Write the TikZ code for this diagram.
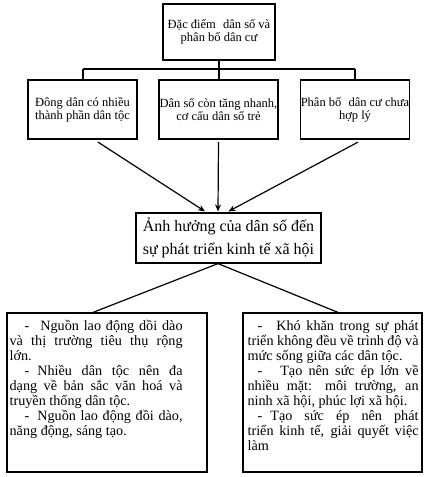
\documentclass[tikz,border=0pt]{standalone}
\usepackage{fontspec}
\setmainfont{Liberation Serif}
\usetikzlibrary{arrows.meta,calc}
\begin{document}
\begin{tikzpicture}[x=1pt,y=-1pt,
  box/.style={draw,line width=1.2pt,inner sep=0pt,align=center},
  small/.style={font=\fontsize{12.5}{13}\selectfont},
  conn/.style={line width=1.2pt},
  arr/.style={line width=1.2pt,-{Stealth[length=7pt,width=6pt]}},
  para/.style={anchor=north west,inner sep=0pt,align=justify,font=\fontsize{14.2}{15}\selectfont}
]
\useasboundingbox (0,0) rectangle (431,477);
% top
\node[box,small,minimum width=112pt,minimum height=56pt] (top) at (219,32) {Đặc điểm\hspace{4pt} dân số và\\phân bố dân cư};
% middle row
\node[box,small,minimum width=109pt,minimum height=59pt] (ml) at (82.5,109.5) {Đông dân có nhiều\\thành phần dân tộc};
\node[box,small,minimum width=119pt,minimum height=59pt] (mm) at (218.5,109.5) {Dân số còn tăng nhanh,\\cơ cấu dân số trẻ};
\node[box,small,minimum width=106pt,minimum height=59pt] (mr) at (355,109.5) {Phân bố\hspace{4pt} dân cư chưa\\hợp lý};
% center
\node[box,font=\fontsize{16}{23}\selectfont,minimum width=185pt,minimum height=50pt] (c) at (228.5,238) {Ảnh hưởng của dân số đến\\sự phát triển kinh tế xã hội};
% bottom boxes
\node[box,minimum width=200pt,minimum height=159pt] (bl) at (107,392.5) {};
\node[box,minimum width=179pt,minimum height=159pt] (br) at (332.5,392.5) {};
\node[para,text width=173pt] (tl) at ([shift={(3pt,-8pt)}]bl.north west) {%
\hspace*{15pt}-\hspace{11pt}Nguồn lao động dồi dào\linebreak và thị trường tiêu thụ rộng\linebreak lớn.\par
\hspace*{15pt}-\hspace{8pt}Nhiều dân tộc nên đa\linebreak dạng về bản sắc văn hoá và\linebreak truyền thống dân tộc.\par
\hspace*{15pt}-\hspace{8pt}Nguồn lao động đồi dào,\linebreak năng động, sáng tạo.};
\node[para,text width=171pt] (tr) at ([shift={(5pt,-8pt)}]br.north west) {%
\hspace*{10pt}-\hspace{14pt}Khó khăn trong sự phát\linebreak triển không đều về trình độ và\linebreak mức sống giữa các dân tộc.\par
\hspace*{10pt}-\hspace{18pt}Tạo nên sức ép lớn về\linebreak nhiều mặt: môi trường, an\linebreak ninh xã hội, phúc lợi xã hội.\par
\hspace*{10pt}-\hspace{8pt}Tạo sức ép nên phát\linebreak triển kinh tế, giải quyết việc\linebreak làm};
% tree connectors
\coordinate (hub) at (219,69);
\coordinate (hl) at (83,69);
\coordinate (hr) at (355,69);
\draw[conn] (top.south) -- (hub);
\draw[conn] (hl) -- (hr);
\draw[conn] (hl) -- (hl |- ml.north);
\draw[conn] (hub) -- (hub |- mm.north);
\draw[conn] (hr) -- (hr |- mr.north);
% arrows
\draw[arr] ([shift={(15.5pt,-2.5pt)}]ml.south) -- ([shift={(-23.5pt,1pt)}]c.north);
\draw[arr] ([shift={(0pt,-2.5pt)}]mm.south) -- ([shift={(-10.5pt,1pt)}]c.north);
\draw[arr] ([shift={(3pt,-2.5pt)}]mr.south) -- ([shift={(0pt,1pt)}]c.north);
% lines down
\draw[conn] ([xshift=-10.5pt]c.south) -- ([xshift=-14pt]bl.north);
\draw[conn] ([xshift=-10.5pt]c.south) -- ([xshift=5.5pt]br.north);
\end{tikzpicture}
\end{document}
